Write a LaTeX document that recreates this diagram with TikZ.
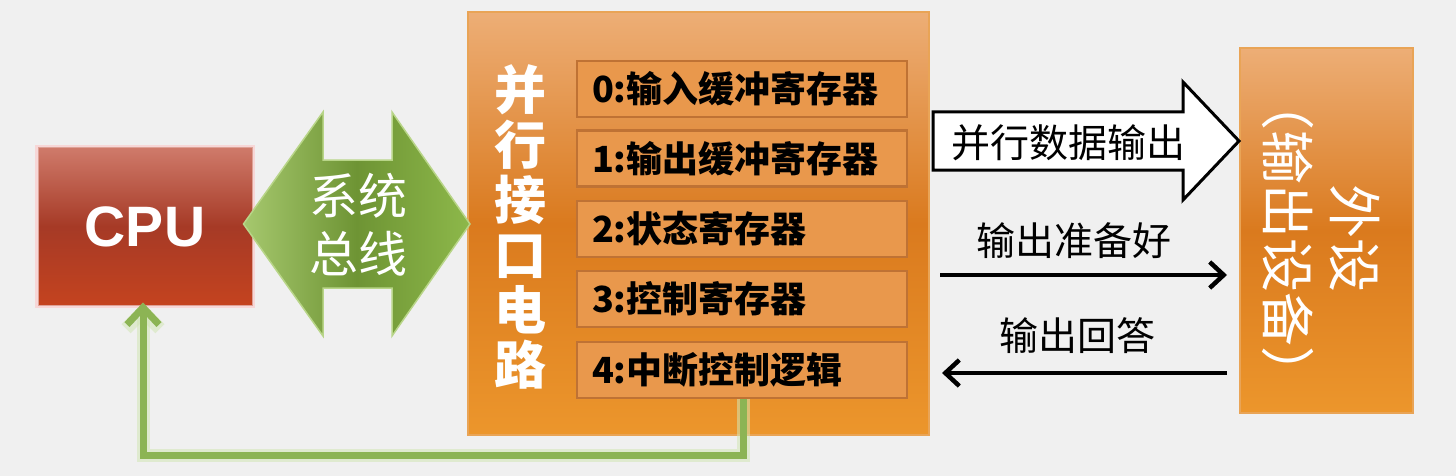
\documentclass[tikz,border=0pt]{standalone}
\usepackage{fontspec}
\setmainfont{Noto Sans CJK SC}
\newfontfamily\latinb{Liberation Sans}
\usetikzlibrary{arrows.meta,calc}
\definecolor{bgc}{HTML}{F0F0F0}
\definecolor{cputop}{HTML}{CF7A6A}
\definecolor{cpumid}{HTML}{A63A26}
\definecolor{cpubot}{HTML}{C4431F}
\definecolor{ortop}{HTML}{EDAE76}
\definecolor{ormid}{HTML}{DA7A1E}
\definecolor{orbot}{HTML}{EC962C}
\definecolor{orline}{HTML}{E9A456}
\definecolor{regfill}{HTML}{E9984C}
\definecolor{regline}{HTML}{BF7234}
\definecolor{gleft}{HTML}{A6C86E}
\definecolor{gmid}{HTML}{6E9434}
\definecolor{gright}{HTML}{8DB84A}
\definecolor{gline}{HTML}{B8D588}
\definecolor{fbgreen}{HTML}{8CB454}
\definecolor{fbglow}{HTML}{D2E6B4}
\tikzset{
  cpubox/.style={rectangle, minimum width=214pt, minimum height=157pt, top color=cputop, bottom color=cpubot, middle color=cpumid, draw=cputop!70!white, line width=1pt, text=white, font=\latinb\bfseries\fontsize{57}{60}\selectfont},
  orbox/.style={rectangle, top color=ortop, bottom color=orbot, middle color=ormid, draw=orline, line width=2pt},
  regbox/.style={rectangle, minimum width=330pt, minimum height=56pt, text width=300pt, align=left, inner xsep=15pt, fill=regfill, draw=regline, line width=2.5pt, font=\bfseries\fontsize{36}{40}\selectfont, text=black},
  lbl/.style={font=\fontsize{39}{42}\selectfont, text=black, inner sep=0pt},
  sig/.style={line width=4.5pt, -{Straight Barb[length=14pt, width=26pt, line width=4.5pt]}},
  fbline/.style={line width=7pt, draw=fbgreen, -{Straight Barb[length=17pt, width=32pt, line width=7pt]}},
  fbhalo/.style={line width=13pt, draw=fbglow, opacity=0.55, -{Straight Barb[length=17pt, width=34pt, line width=13pt]}}
}
\begin{document}
\begin{tikzpicture}[x=1pt,y=-1pt]
\useasboundingbox (0,0) rectangle (1456,476);
\fill[bgc] (0,0) rectangle (1456,476);

% CPU
\draw[red!25, line width=6pt, opacity=0.5] (38,148) rectangle (252,305);
\node[cpubox] (cpu) at (145,226.5) {CPU};

% interface box
\node[orbox, minimum width=461pt, minimum height=423pt] (ifc) at (698.5,223.5) {};
\node[text=white, font=\bfseries\fontsize{52}{55}\selectfont, align=center, inner sep=0pt] (iflabel) at (520,227) {并\\行\\接\\口\\电\\路};

\node[regbox] (r0) at (742,89) {0:输入缓冲寄存器};
\node[regbox] (r1) at (742,158.5) {1:输出缓冲寄存器};
\node[regbox] (r2) at (742,229) {2:状态寄存器};
\node[regbox] (r3) at (742,299) {3:控制寄存器};
\node[regbox] (r4) at (742,370) {4:中断控制逻辑};

% peripheral
\node[orbox, minimum width=173pt, minimum height=365pt] (per) at (1326.5,230.5) {};
\node[rotate=-90, text=white, font=\fontsize{54}{67}\selectfont, align=center, inner sep=0pt] (perlabel) at (1321,239) {外设\\（输出设备）};

% system bus double arrow
\coordinate (busL) at ($(cpu.east)+(-9,-2.5)$);
\coordinate (busR) at ($(ifc.west)+(3,0.5)$);
\path[left color=gleft, right color=gright, middle color=gmid, draw=gline, line width=1.5pt]
  (busL) -- (323,112) -- (323,160) -- (392,160) -- (392,112) -- (busR)
  -- (392,336) -- (392,288) -- (323,288) -- (323,336) -- cycle;
\node[text=white, font=\fontsize{49}{58}\selectfont, align=center, inner sep=0pt] (buslabel) at (358,225) {系统\\总线};

% feedback line
\coordinate (fbc) at (743,455);
\draw[fbhalo] (r4.south -| fbc) -- (fbc) -| ([xshift=-2pt,yshift=3pt]cpu.south);
\draw[fbline] (r4.south -| fbc) -- (fbc) -| ([xshift=-2pt,yshift=3pt]cpu.south);

% parallel data output big arrow
\coordinate (daL) at ($(ifc.east |- 0,141)+(3,0)$);
\coordinate (daR) at (per.west |- 0,141);
\draw[fill=white, draw=black, line width=3pt, line join=miter]
  ($(daL)+(0,-29)$) -- (1183,112) -- (1183,82) -- (daR) -- (1183,200) -- (1183,170) -- ($(daL)+(0,29)$) -- cycle;
\node[lbl] (dalabel) at (1068,143) {并行数据输出};

% ready signal
\coordinate (rdy) at (0,275);
\draw[sig] ([xshift=10pt]ifc.east |- rdy) -- ([xshift=-12pt]per.west |- rdy);
\node[lbl] (rdylabel) at (1074,241) {输出准备好};

% acknowledge
\coordinate (ack) at (0,373);
\draw[sig] ([xshift=-12pt]per.west |- ack) -- ([xshift=12pt]ifc.east |- ack);
\node[lbl] (acklabel) at (1077,336) {输出回答};
\end{tikzpicture}
\end{document}
